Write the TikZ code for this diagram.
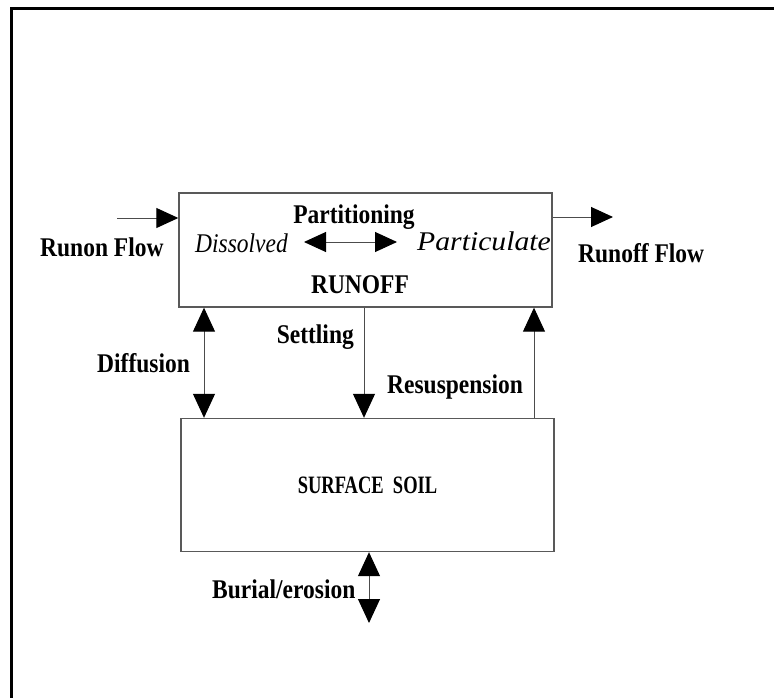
\documentclass[tikz,border=0pt]{standalone}
\usepackage{fontspec}
\setmainfont{Liberation Serif}
\newfontfamily\labelfont[FakeStretch=0.87]{Liberation Serif}
\newfontfamily\soilfont[FakeStretch=0.74]{Liberation Serif}
\newfontfamily\widefont[FakeStretch=1.1]{Liberation Serif}
\usetikzlibrary{arrows.meta}
\begin{document}
\begin{tikzpicture}[x=1pt,y=-1pt,
  box/.style={draw=black!65, line width=1.4pt, inner sep=0pt},
  lbl/.style={font=\labelfont\bfseries\fontsize{27}{31}\selectfont, inner sep=0pt, anchor=base west},
  itl/.style={font=\labelfont\itshape\fontsize{27}{31}\selectfont, inner sep=0pt, anchor=base west},
  hhead/.tip={Triangle[length=22pt,width=20pt,color=black]},
  vhead/.tip={Triangle[length=24pt,width=22pt,color=black]},
  hflow/.style={draw=black!70, line width=1pt, -hhead},
  hboth/.style={draw=black!70, line width=1pt, hhead-hhead},
  vflow/.style={draw=black!70, line width=1pt, -vhead},
  vboth/.style={draw=black!70, line width=1pt, vhead-vhead}]
\useasboundingbox (0,0) rectangle (774,698);

% outer frame (open to the right and bottom)
\draw[line width=3pt] (11.5,720) -- (11.5,8.5) -- (800,8.5);

% compartments
\node[box, minimum width=373pt, minimum height=114pt] (runoff) at (365.5,250) {};
\node[box, minimum width=373pt, minimum height=133pt,
      font=\soilfont\bfseries\fontsize{25}{29}\selectfont] (soil) at (367.5,485) {SURFACE\ \ SOIL};

% texts inside the runoff compartment
\node[lbl, anchor=base] (part) at (354,223) {Partitioning};
\node[itl] (dis) at (195,252) {Dissolved};
\node[inner sep=0pt, anchor=base west, font=\widefont\itshape\fontsize{27}{31}\selectfont] (partc) at (417,250) {Particulate};
\node[lbl, anchor=base] (ro) at (360,293) {RUNOFF};

% outside labels
\node[lbl] (runon) at (40,256) {Runon Flow};
\node[lbl] (runofflbl) at (578,262) {Runoff Flow};
\node[lbl] (diff) at (97,372) {Diffusion};
\node[lbl, anchor=base east] (sett) at (354,343) {Settling};
\node[lbl] (resus) at (387,393) {Resuspension};
\node[lbl] (bur) at (212,598) {Burial/erosion};

% flow connectors
\coordinate (runonTail) at (117,218);
\draw[hflow] (runonTail) -- (runonTail -| runoff.west);
\coordinate (runoffTip) at (613,217);
\draw[hflow] (runoffTip -| runoff.east) -- (runoffTip);
\coordinate (partY) at (0,242);
\draw[hboth] (304,0 |- partY) -- (397,0 |- partY);

\coordinate (diffX) at (204,0);
\draw[vboth] (diffX |- runoff.south) -- (diffX |- soil.north);
\coordinate (settX) at (364,0);
\draw[vflow] (settX |- runoff.south) -- (settX |- soil.north);
\coordinate (resX) at (534,0);
\draw[vflow] (resX |- soil.north) -- (resX |- runoff.south);
\coordinate (burTip) at (369,623);
\draw[vboth] (burTip |- soil.south) -- (burTip);
\end{tikzpicture}
\end{document}
